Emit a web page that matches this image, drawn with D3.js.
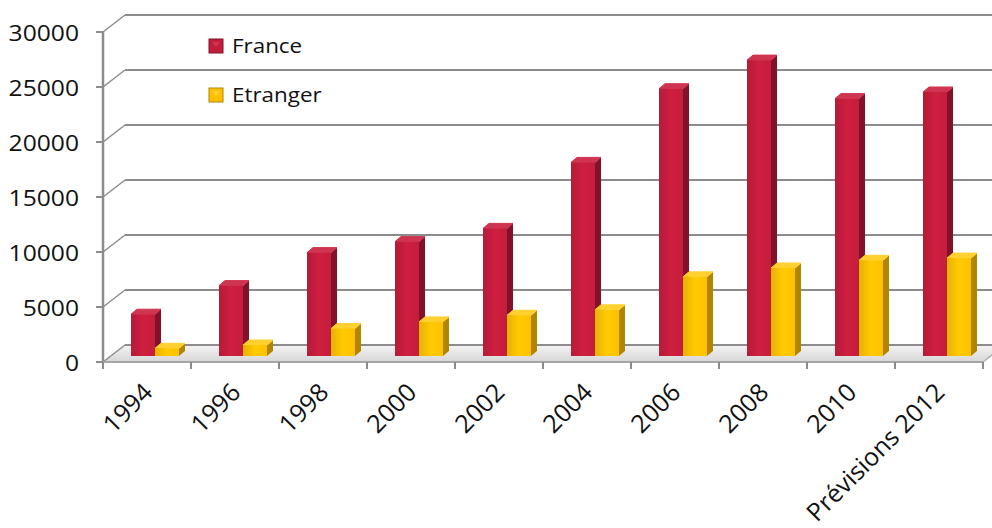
<!DOCTYPE html>
<html>
<head>
<meta charset="utf-8">
<script src="https://cdn.jsdelivr.net/npm/d3@7"></script>
<style>
  body { margin: 0; background: #fff; }
  svg { display: block; font-family: "Open Sans", sans-serif; }
</style>
</head>
<body>
<svg id="chart" width="992" height="528"></svg>
<script>
const categories = ["1994", "1996", "1998", "2000", "2002", "2004", "2006", "2008", "2010", "Prévisions 2012"];
const france = [3800, 6400, 9400, 10400, 11600, 17600, 24300, 26900, 23400, 24000];
const etranger = [700, 1000, 2500, 3100, 3700, 4200, 7200, 8000, 8700, 8900];
const yTicks = [0, 5000, 10000, 15000, 20000, 25000, 30000];
const seriesNames = ["France", "Etranger"];

const svg = d3.select("#chart");
const width = +svg.attr("width");

const colors = {
  France: {front: "#c41d3c", side: "#82122a", top: "#cf3450"},
  Etranger: {front: "#ffc000", side: "#b08600", top: "#ffd030"}
};

// front plane scales
const x = d3.scaleBand().domain(categories).range([103, 983]);
const y = d3.scaleLinear().domain([0, 30000]).range([362, 32]);

const back = {dx: 22, dy: -17};   // back wall offset
const mid = {dx: 8, dy: -6};      // bar plane offset
const depth = {dx: 6, dy: -5};    // bar thickness
const stretch = 1.12;             // the original text is a little wide

const defs = svg.append("defs");
const floorGrad = defs.append("linearGradient").attr("id", "floor")
  .attr("x1", 0).attr("y1", 0).attr("x2", 0).attr("y2", 1);
floorGrad.append("stop").attr("offset", "0%").attr("stop-color", "#f4f4f4");
floorGrad.append("stop").attr("offset", "100%").attr("stop-color", "#d6d6d6");

seriesNames.forEach(s => {
  const g = defs.append("linearGradient").attr("id", "front-" + s)
    .attr("x1", 0).attr("y1", 0).attr("x2", 1).attr("y2", 0);
  g.append("stop").attr("offset", "0%").attr("stop-color", d3.color(colors[s].front).darker(0.25));
  g.append("stop").attr("offset", "50%").attr("stop-color", d3.color(colors[s].front).brighter(0.15));
  g.append("stop").attr("offset", "100%").attr("stop-color", colors[s].front);
});

// floor
const x0 = x.range()[0], x1 = x.range()[1];
svg.append("path")
  .attr("d", `M${x0},${y(0)} L${x1},${y(0)} L${x1 + back.dx},${y(0) + back.dy} L${x0 + back.dx},${y(0) + back.dy} Z`)
  .attr("fill", "url(#floor)");

// back wall gridlines + side wall diagonals
svg.append("g").selectAll("line")
  .data(yTicks)
  .join("line")
  .attr("x1", x0 + back.dx)
  .attr("x2", width)
  .attr("y1", d => y(d) + back.dy)
  .attr("y2", d => y(d) + back.dy)
  .attr("stroke", "#8c8c8c")
  .attr("stroke-width", 2);

svg.append("g").selectAll("line")
  .data(yTicks)
  .join("line")
  .attr("x1", x0)
  .attr("y1", d => y(d))
  .attr("x2", x0 + back.dx)
  .attr("y2", d => y(d) + back.dy)
  .attr("stroke", "#8c8c8c")
  .attr("stroke-width", 1.5);

// bars
const inner = d3.scaleBand().domain(seriesNames).range([20, 68]);
const rows = categories.map((c, i) => ({cat: c, France: france[i], Etranger: etranger[i]}));

rows.forEach(r => {
  seriesNames.forEach(s => {
    const bx = x(r.cat) + inner(s) + mid.dx;
    const bw = inner.bandwidth();
    const by = y(r[s]) + mid.dy;
    const base = y(0) + mid.dy;
    const g = svg.append("g");
    // side
    g.append("path")
      .attr("d", `M${bx + bw},${by} L${bx + bw + depth.dx},${by + depth.dy} L${bx + bw + depth.dx},${base + depth.dy} L${bx + bw},${base} Z`)
      .attr("fill", colors[s].side);
    // top
    g.append("path")
      .attr("d", `M${bx},${by} L${bx + depth.dx},${by + depth.dy} L${bx + bw + depth.dx},${by + depth.dy} L${bx + bw},${by} Z`)
      .attr("fill", colors[s].top)
      .attr("stroke", colors[s].top)
      .attr("stroke-width", 1)
      .attr("stroke-linejoin", "round");
    // front
    g.append("rect")
      .attr("x", bx)
      .attr("y", by)
      .attr("width", bw)
      .attr("height", base - by)
      .attr("fill", `url(#front-${s})`);
  });
});

// front axis lines
svg.append("line")
  .attr("x1", x0).attr("x2", x0)
  .attr("y1", y(30000)).attr("y2", y(0) + 1)
  .attr("stroke", "#8c8c8c").attr("stroke-width", 2.5);

svg.append("line")
  .attr("x1", x0).attr("x2", x1)
  .attr("y1", y(0)).attr("y2", y(0))
  .attr("stroke", "#a6a6a6").attr("stroke-width", 2);

svg.append("line")
  .attr("x1", x1).attr("y1", y(0))
  .attr("x2", x1 + back.dx / 2).attr("y2", y(0) + back.dy / 2)
  .attr("stroke", "#b0b0b0").attr("stroke-width", 1.5);

// y ticks + labels
svg.append("g").selectAll("line")
  .data(yTicks)
  .join("line")
  .attr("x1", x0 - 7).attr("x2", x0)
  .attr("y1", d => y(d)).attr("y2", d => y(d))
  .attr("stroke", "#8c8c8c").attr("stroke-width", 2);

svg.append("g").selectAll("text")
  .data(yTicks)
  .join("text")
  .attr("transform", d => `translate(79,${y(d) + 8.5}) scale(${stretch},1)`)
  .attr("text-anchor", "end")
  .style("font-size", "22px")
  .attr("fill", "#111")
  .text(d => d);

// x ticks + labels
const xTickPos = categories.map(c => x(c)).concat([x1]);
svg.append("g").selectAll("line")
  .data(xTickPos)
  .join("line")
  .attr("x1", d => d).attr("x2", d => d)
  .attr("y1", y(0)).attr("y2", y(0) + 7)
  .attr("stroke", "#8c8c8c").attr("stroke-width", 2);

svg.append("g").selectAll("text")
  .data(categories)
  .join("text")
  .attr("transform", d => `translate(${x(d) + x.bandwidth() / 2 + 7},${394}) rotate(-45)`)
  .attr("text-anchor", "end")
  .style("font-size", "25px")
  .attr("fill", "#111")
  .text(d => d);

// legend
const legend = svg.append("g").selectAll("g")
  .data(seriesNames)
  .join("g")
  .attr("transform", (d, i) => `translate(209, ${39 + i * 49})`);

legend.append("rect")
  .attr("width", 14).attr("height", 14)
  .attr("fill", d => colors[d].front)
  .attr("stroke", d => colors[d].side)
  .attr("stroke-width", 1);

legend.append("path")
  .attr("d", "M3,3 L11,3 L7,8 Z")
  .attr("fill", d => colors[d].top);

legend.append("text")
  .attr("transform", `translate(23,14) scale(${stretch},1)`)
  .style("font-size", "20px")
  .attr("fill", "#111")
  .text(d => d);
</script>
</body>
</html>
